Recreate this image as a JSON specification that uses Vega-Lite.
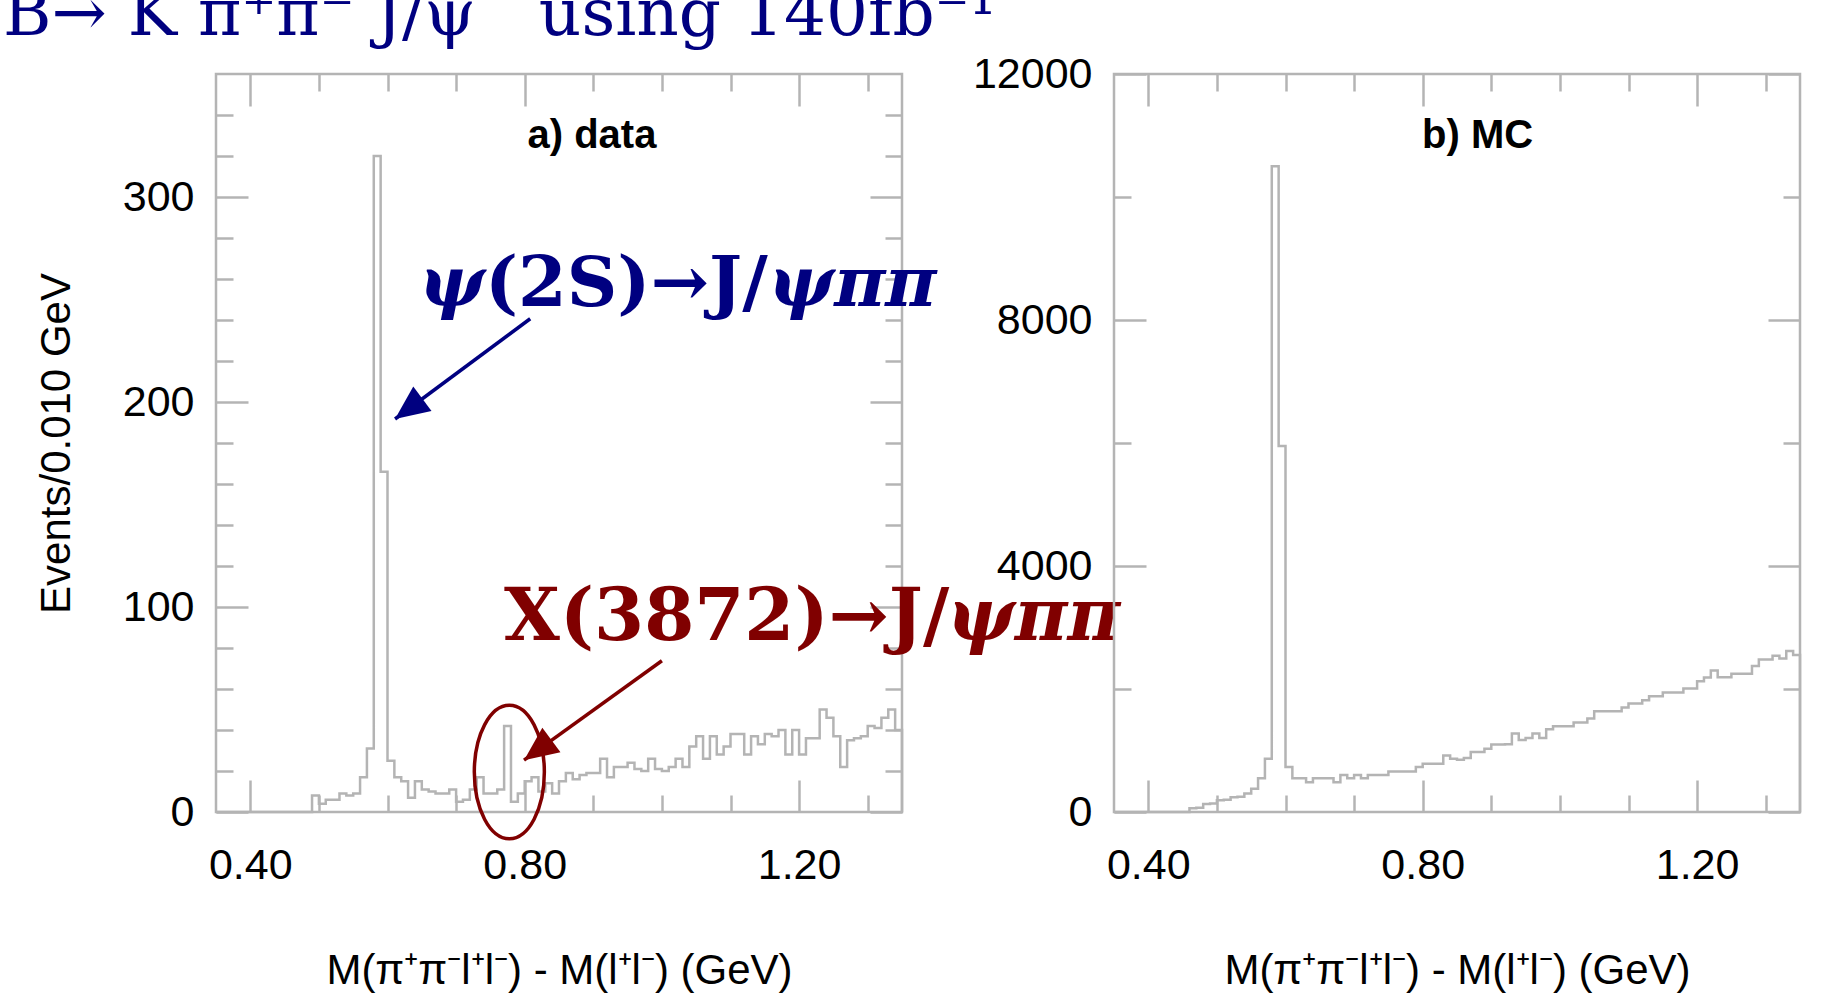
{
  "$schema": "https://vega.github.io/schema/vega-lite/v6.json",
  "background": "white",
  "padding": {"top": -19, "left": 3, "right": 0, "bottom": 0},
  "title": {"text": "B→ K π⁺π⁻ J/ψ\u00a0\u00a0\u00a0using 140fb⁻¹", "anchor": "start", "font": "DejaVu Serif", "fontSize": 66, "fontWeight": "normal", "color": "#000080", "baseline": "alphabetic", "offset": -49, "dx": -31},
  "config": {
    "view": {"stroke": "#b4b4b4", "strokeWidth": 2.5},
    "axis": {"tickColor": "#b4b4b4", "tickWidth": 2.5, "domain": false, "grid": false, "labelFont": "Liberation Sans", "labelFontSize": 43, "labelColor": "#000000", "titleFont": "Liberation Sans", "titleFontSize": 42, "titleFontWeight": "normal", "titleColor": "#000000", "labelFlush": false, "labelOverlap": false}
  },
  "datasets": {
    "left": [
      {"m":0.35,"n":0},{"m":0.36,"n":0},{"m":0.37,"n":0},{"m":0.38,"n":0},{"m":0.39,"n":0},{"m":0.40,"n":0},{"m":0.41,"n":0},{"m":0.42,"n":0},{"m":0.43,"n":0},{"m":0.44,"n":0},{"m":0.45,"n":0},{"m":0.46,"n":0},{"m":0.47,"n":0},{"m":0.48,"n":0},
      {"m":0.49,"n":8},{"m":0.50,"n":4},{"m":0.51,"n":6},{"m":0.52,"n":6},{"m":0.53,"n":9},{"m":0.54,"n":8},{"m":0.55,"n":9},{"m":0.56,"n":17},{"m":0.57,"n":31},{"m":0.58,"n":320},{"m":0.59,"n":166},
      {"m":0.60,"n":25},{"m":0.61,"n":17},{"m":0.62,"n":15},{"m":0.63,"n":7},{"m":0.64,"n":15},{"m":0.65,"n":11},{"m":0.66,"n":10},{"m":0.67,"n":9},{"m":0.68,"n":9},{"m":0.69,"n":11},
      {"m":0.70,"n":5},{"m":0.71,"n":6},{"m":0.72,"n":11},{"m":0.73,"n":17},{"m":0.74,"n":9},{"m":0.75,"n":9},{"m":0.76,"n":11},{"m":0.77,"n":42},{"m":0.78,"n":5},{"m":0.79,"n":9},
      {"m":0.80,"n":15},{"m":0.81,"n":17},{"m":0.82,"n":10},{"m":0.83,"n":14},{"m":0.84,"n":9},{"m":0.85,"n":15},{"m":0.86,"n":19},{"m":0.87,"n":16},{"m":0.88,"n":18},{"m":0.89,"n":19},
      {"m":0.90,"n":19},{"m":0.91,"n":26},{"m":0.92,"n":17},{"m":0.93,"n":22},{"m":0.94,"n":22},{"m":0.95,"n":24},{"m":0.96,"n":21},{"m":0.97,"n":20},{"m":0.98,"n":26},{"m":0.99,"n":21},
      {"m":1.00,"n":20},{"m":1.01,"n":22},{"m":1.02,"n":26},{"m":1.03,"n":22},{"m":1.04,"n":32},{"m":1.05,"n":37},{"m":1.06,"n":26},{"m":1.07,"n":37},{"m":1.08,"n":28},{"m":1.09,"n":32},
      {"m":1.10,"n":38},{"m":1.11,"n":38},{"m":1.12,"n":28},{"m":1.13,"n":37},{"m":1.14,"n":33},{"m":1.15,"n":38},{"m":1.16,"n":37},{"m":1.17,"n":40},{"m":1.18,"n":28},{"m":1.19,"n":40},
      {"m":1.20,"n":28},{"m":1.21,"n":36},{"m":1.22,"n":36},{"m":1.23,"n":50},{"m":1.24,"n":46},{"m":1.25,"n":37},{"m":1.26,"n":22},{"m":1.27,"n":35},{"m":1.28,"n":36},{"m":1.29,"n":37},
      {"m":1.30,"n":42},{"m":1.31,"n":41},{"m":1.32,"n":46},{"m":1.33,"n":50},{"m":1.34,"n":40},{"m":1.35,"n":0}
    ],
    "right": [
      {"m":0.35,"n":0},{"m":0.36,"n":0},{"m":0.37,"n":0},{"m":0.38,"n":0},{"m":0.39,"n":0},{"m":0.40,"n":0},{"m":0.41,"n":0},{"m":0.42,"n":0},{"m":0.43,"n":0},{"m":0.44,"n":0},{"m":0.45,"n":0},
      {"m":0.46,"n":60},{"m":0.47,"n":70},{"m":0.48,"n":130},{"m":0.49,"n":140},{"m":0.50,"n":190},{"m":0.51,"n":200},{"m":0.52,"n":240},{"m":0.53,"n":250},{"m":0.54,"n":300},{"m":0.55,"n":380},
      {"m":0.56,"n":550},{"m":0.57,"n":865},{"m":0.58,"n":10500},{"m":0.59,"n":5950},{"m":0.60,"n":730},{"m":0.61,"n":550},{"m":0.62,"n":550},{"m":0.63,"n":485},{"m":0.64,"n":550},{"m":0.65,"n":550},
      {"m":0.66,"n":550},{"m":0.67,"n":485},{"m":0.68,"n":600},{"m":0.69,"n":550},{"m":0.70,"n":600},{"m":0.71,"n":550},{"m":0.72,"n":600},{"m":0.73,"n":600},{"m":0.74,"n":600},{"m":0.75,"n":660},
      {"m":0.76,"n":660},{"m":0.77,"n":660},{"m":0.78,"n":660},{"m":0.79,"n":730},{"m":0.80,"n":785},{"m":0.81,"n":785},{"m":0.82,"n":785},{"m":0.83,"n":920},{"m":0.84,"n":865},{"m":0.85,"n":850},
      {"m":0.86,"n":880},{"m":0.87,"n":975},{"m":0.88,"n":975},{"m":0.89,"n":1030},{"m":0.90,"n":1096},{"m":0.91,"n":1096},{"m":0.92,"n":1100},{"m":0.93,"n":1275},{"m":0.94,"n":1170},{"m":0.95,"n":1204},
      {"m":0.96,"n":1275},{"m":0.97,"n":1204},{"m":0.98,"n":1346},{"m":0.99,"n":1394},{"m":1.00,"n":1394},{"m":1.01,"n":1394},{"m":1.02,"n":1454},{"m":1.03,"n":1454},{"m":1.04,"n":1519},{"m":1.05,"n":1639},
      {"m":1.06,"n":1639},{"m":1.07,"n":1639},{"m":1.08,"n":1639},{"m":1.09,"n":1698},{"m":1.10,"n":1764},{"m":1.11,"n":1764},{"m":1.12,"n":1818},{"m":1.13,"n":1883},{"m":1.14,"n":1883},{"m":1.15,"n":1943},
      {"m":1.16,"n":1943},{"m":1.17,"n":1943},{"m":1.18,"n":2008},{"m":1.19,"n":2008},{"m":1.20,"n":2127},{"m":1.21,"n":2187},{"m":1.22,"n":2301},{"m":1.23,"n":2192},{"m":1.24,"n":2192},{"m":1.25,"n":2247},
      {"m":1.26,"n":2247},{"m":1.27,"n":2247},{"m":1.28,"n":2372},{"m":1.29,"n":2481},{"m":1.30,"n":2481},{"m":1.31,"n":2541},{"m":1.32,"n":2497},{"m":1.33,"n":2617},{"m":1.34,"n":2551},{"m":1.35,"n":0}
    ],
    "panelL": [{"t": "a) data", "x": 0.898, "y": 324}],
    "panelR": [{"t": "b) MC", "x": 0.88, "y": 10790}],
    "psiUp": [{"t": "(2S)→J/", "x": 0.742, "y": 247}],
    "psiIt": [{"t": "ψ", "x": 0.646, "y": 247}, {"t": "ψππ", "x": 1.155, "y": 247}],
    "xUp": [{"t": "X(3872)→J/", "x": 0.77, "y": 84}],
    "xIt": [{"t": "ψππ", "x": 1.4156, "y": 84}],
    "psiArrow": [{"x": 0.808, "y": 240.6, "x2": 0.611, "y2": 191.7}],
    "psiHead": [{"x": 0.611, "y": 191.7}],
    "xArrow": [{"x": 1.0, "y": 73.8, "x2": 0.799, "y2": 25.3}],
    "xHead": [{"x": 0.799, "y": 25.3}],
    "ellipse": [{"x": 0.7776, "y": 19.5}]
  },
  "bounds": "flush",
  "spacing": 212,
  "hconcat": [
    {
      "width": 686,
      "height": 738,
      "layer": [
        {
          "data": {"name": "left"},
          "mark": {"type": "line", "interpolate": "step-after", "color": "#b4b4b4", "strokeWidth": 2.5},
          "encoding": {
            "x": {"field": "m", "type": "quantitative", "scale": {"domain": [0.35, 1.35], "nice": false, "zero": false},
              "axis": {"orient": "bottom", "values": [0.4,0.5,0.6,0.7,0.8,0.9,1.0,1.1,1.2,1.3], "labelExpr": "round(datum.value*10) % 4 === 0 ? format(datum.value, '.2f') : ''", "tickSize": {"condition": {"test": "round(datum.value*10) % 4 === 0", "value": -32}, "value": -17}, "labelPadding": 64, "title": "M(π⁺π⁻l⁺l⁻) - M(l⁺l⁻) (GeV)", "titlePadding": 48}},
            "y": {"field": "n", "type": "quantitative", "scale": {"domain": [0, 360], "nice": false},
              "axis": {"orient": "left", "values": [0,20,40,60,80,100,120,140,160,180,200,220,240,260,280,300,320,340], "labelExpr": "datum.value % 100 === 0 ? format(datum.value, 'd') : ''", "tickSize": {"condition": {"test": "datum.value % 100 === 0", "value": -32}, "value": -17}, "labelPadding": 54, "title": "Events/0.010 GeV", "titlePadding": 44}}
          }
        },
        {
          "data": {"name": "panelL"},
          "mark": {"type": "text", "font": "Liberation Sans", "fontSize": 40, "fontWeight": "bold", "align": "center", "baseline": "alphabetic", "color": "#000000"},
          "encoding": {
            "x": {"field": "x", "type": "quantitative", "scale": {"domain": [0.35, 1.35], "nice": false, "zero": false},
              "axis": {"orient": "top", "values": [0.4,0.5,0.6,0.7,0.8,0.9,1.0,1.1,1.2,1.3], "labels": false, "tickSize": {"condition": {"test": "round(datum.value*10) % 4 === 0", "value": -32}, "value": -17}, "title": null}},
            "y": {"field": "y", "type": "quantitative", "scale": {"domain": [0, 360], "nice": false},
              "axis": {"orient": "right", "values": [0,20,40,60,80,100,120,140,160,180,200,220,240,260,280,300,320,340], "labels": false, "tickSize": {"condition": {"test": "datum.value % 100 === 0", "value": -32}, "value": -17}, "title": null}},
            "text": {"field": "t"}
          }
        },
        {
          "data": {"name": "psiArrow"},
          "mark": {"type": "rule", "color": "#000080", "strokeWidth": 3.5},
          "encoding": {
            "x": {"field": "x", "type": "quantitative", "axis": null},
            "y": {"field": "y", "type": "quantitative", "axis": null},
            "x2": {"field": "x2"},
            "y2": {"field": "y2"}
          }
        },
        {
          "data": {"name": "psiHead"},
          "mark": {"type": "point", "shape": "M0,0 L-0.45,1 L0.45,1 Z", "filled": true, "color": "#000080", "opacity": 1, "size": 4624, "angle": 233.5, "strokeWidth": 0},
          "encoding": {
            "x": {"field": "x", "type": "quantitative", "axis": null},
            "y": {"field": "y", "type": "quantitative", "axis": null}
          }
        },
        {
          "data": {"name": "xArrow"},
          "mark": {"type": "rule", "color": "#800000", "strokeWidth": 3.5},
          "encoding": {
            "x": {"field": "x", "type": "quantitative", "axis": null},
            "y": {"field": "y", "type": "quantitative", "axis": null},
            "x2": {"field": "x2"},
            "y2": {"field": "y2"}
          }
        },
        {
          "data": {"name": "xHead"},
          "mark": {"type": "point", "shape": "M0,0 L-0.45,1 L0.45,1 Z", "filled": true, "color": "#800000", "opacity": 1, "size": 4624, "angle": 233.7, "strokeWidth": 0},
          "encoding": {
            "x": {"field": "x", "type": "quantitative", "axis": null},
            "y": {"field": "y", "type": "quantitative", "axis": null}
          }
        },
        {
          "data": {"name": "ellipse"},
          "mark": {"type": "point", "shape": "M0,-1 C0.29,-1 0.525,-0.5523 0.525,0 C0.525,0.5523 0.29,1 0,1 C-0.29,1 -0.525,0.5523 -0.525,0 C-0.525,-0.5523 -0.29,-1 0,-1 Z", "filled": false, "stroke": "#800000", "opacity": 1, "size": 17796, "strokeWidth": 3.5},
          "encoding": {
            "x": {"field": "x", "type": "quantitative", "axis": null},
            "y": {"field": "y", "type": "quantitative", "axis": null}
          }
        },
        {
          "data": {"name": "psiUp"},
          "mark": {"type": "text", "font": "DejaVu Serif", "fontSize": 70, "fontWeight": "bold", "fontStyle": "normal", "align": "left", "baseline": "alphabetic", "color": "#000080"},
          "encoding": {
            "x": {"field": "x", "type": "quantitative", "axis": null},
            "y": {"field": "y", "type": "quantitative", "axis": null},
            "text": {"field": "t"}
          }
        },
        {
          "data": {"name": "psiIt"},
          "mark": {"type": "text", "font": "DejaVu Serif", "fontSize": 70, "fontWeight": "bold", "fontStyle": "italic", "align": "left", "baseline": "alphabetic", "color": "#000080"},
          "encoding": {
            "x": {"field": "x", "type": "quantitative", "axis": null},
            "y": {"field": "y", "type": "quantitative", "axis": null},
            "text": {"field": "t"}
          }
        },
        {
          "data": {"name": "xUp"},
          "mark": {"type": "text", "font": "DejaVu Serif", "fontSize": 72, "fontWeight": "bold", "fontStyle": "normal", "align": "left", "baseline": "alphabetic", "color": "#800000"},
          "encoding": {
            "x": {"field": "x", "type": "quantitative", "axis": null},
            "y": {"field": "y", "type": "quantitative", "axis": null},
            "text": {"field": "t"}
          }
        },
        {
          "data": {"name": "xIt"},
          "mark": {"type": "text", "font": "DejaVu Serif", "fontSize": 72, "fontWeight": "bold", "fontStyle": "italic", "align": "left", "baseline": "alphabetic", "color": "#800000"},
          "encoding": {
            "x": {"field": "x", "type": "quantitative", "axis": null},
            "y": {"field": "y", "type": "quantitative", "axis": null},
            "text": {"field": "t"}
          }
        }
      ],
      "resolve": {"axis": {"x": "independent", "y": "independent"}}
    },
    {
      "width": 686,
      "height": 738,
      "layer": [
        {
          "data": {"name": "right"},
          "mark": {"type": "line", "interpolate": "step-after", "color": "#b4b4b4", "strokeWidth": 2.5},
          "encoding": {
            "x": {"field": "m", "type": "quantitative", "scale": {"domain": [0.35, 1.35], "nice": false, "zero": false},
              "axis": {"orient": "bottom", "values": [0.4,0.5,0.6,0.7,0.8,0.9,1.0,1.1,1.2,1.3], "labelExpr": "round(datum.value*10) % 4 === 0 ? format(datum.value, '.2f') : ''", "tickSize": {"condition": {"test": "round(datum.value*10) % 4 === 0", "value": -32}, "value": -17}, "labelPadding": 64, "title": "M(π⁺π⁻l⁺l⁻) - M(l⁺l⁻) (GeV)", "titlePadding": 48}},
            "y": {"field": "n", "type": "quantitative", "scale": {"domain": [0, 12000], "nice": false},
              "axis": {"orient": "left", "values": [0,2000,4000,6000,8000,10000,12000], "labelExpr": "datum.value % 4000 === 0 ? format(datum.value, 'd') : ''", "tickSize": {"condition": {"test": "datum.value % 4000 === 0", "value": -32}, "value": -17}, "labelPadding": 54, "title": null}}
          }
        },
        {
          "data": {"name": "panelR"},
          "mark": {"type": "text", "font": "Liberation Sans", "fontSize": 40, "fontWeight": "bold", "align": "center", "baseline": "alphabetic", "color": "#000000"},
          "encoding": {
            "x": {"field": "x", "type": "quantitative", "scale": {"domain": [0.35, 1.35], "nice": false, "zero": false},
              "axis": {"orient": "top", "values": [0.4,0.5,0.6,0.7,0.8,0.9,1.0,1.1,1.2,1.3], "labels": false, "tickSize": {"condition": {"test": "round(datum.value*10) % 4 === 0", "value": -32}, "value": -17}, "title": null}},
            "y": {"field": "y", "type": "quantitative", "scale": {"domain": [0, 12000], "nice": false},
              "axis": {"orient": "right", "values": [0,2000,4000,6000,8000,10000,12000], "labels": false, "tickSize": {"condition": {"test": "datum.value % 4000 === 0", "value": -32}, "value": -17}, "title": null}},
            "text": {"field": "t"}
          }
        }
      ],
      "resolve": {"axis": {"x": "independent", "y": "independent"}}
    }
  ]
}
